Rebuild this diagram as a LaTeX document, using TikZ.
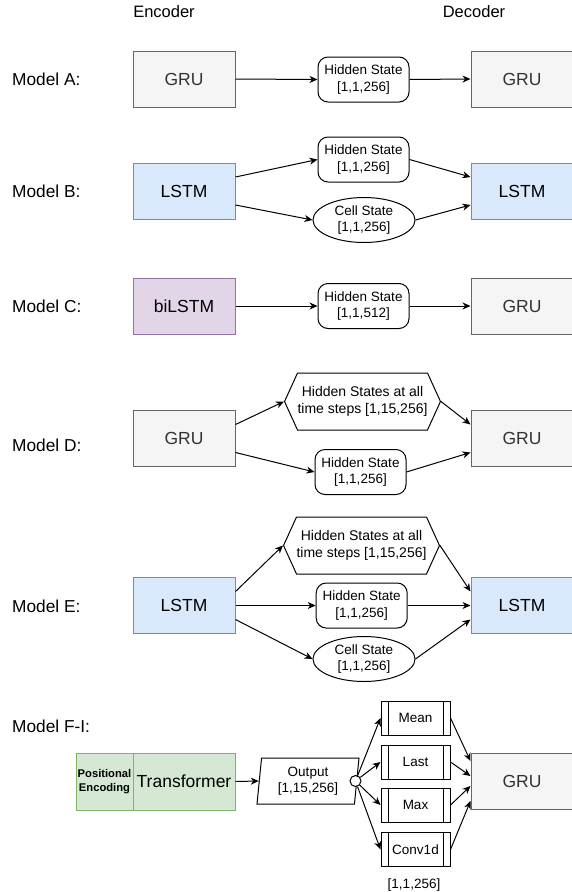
\documentclass[tikz,border=0pt]{standalone}
\usepackage{fontspec}
\setmainfont{Liberation Sans}
\usetikzlibrary{arrows.meta,shapes.geometric,shapes.symbols}
\definecolor{grufill}{HTML}{F5F5F5}
\definecolor{grudraw}{HTML}{666666}
\definecolor{grutext}{HTML}{333333}
\definecolor{lstmfill}{HTML}{DAE8FC}
\definecolor{lstmdraw}{HTML}{6C8EBF}
\definecolor{bifill}{HTML}{E1D5E7}
\definecolor{bidraw}{HTML}{9673A6}
\definecolor{trfill}{HTML}{D5E8D4}
\definecolor{trdraw}{HTML}{82B366}

\begin{document}
\begin{tikzpicture}[x=1pt, y=-1pt,
  block/.style={rectangle, minimum width=102pt, minimum height=56pt, inner sep=0pt, line width=1pt, font=\fontsize{17.5}{21}\selectfont},
  gru/.style={block, draw=grudraw, fill=grufill, text=grutext},
  lstm/.style={block, draw=lstmdraw, fill=lstmfill},
  bilstm/.style={block, draw=bidraw, fill=bifill},
  small/.style={font=\fontsize{13.5}{16.5}\selectfont, align=center, inner sep=0pt},
  hstate/.style={small, rectangle, rounded corners=10pt, draw, line width=1pt, minimum width=91pt, minimum height=45pt},
  cstate/.style={small, ellipse, draw, line width=1pt, minimum width=102pt, minimum height=45pt},
  allsteps/.style={small, signal, signal to=west and east, signal pointer angle=131, draw, line width=1pt, minimum width=147pt, minimum height=57pt, font=\fontsize{14}{16.7}\selectfont},
  pool/.style={small, rectangle, draw, line width=1pt, fill=white, minimum width=69pt, minimum height=34pt,
    path picture={\draw[line width=1pt] ([xshift=7pt]path picture bounding box.north west) -- ([xshift=7pt]path picture bounding box.south west);
      \draw[line width=1pt] ([xshift=-7pt]path picture bounding box.north east) -- ([xshift=-7pt]path picture bounding box.south east);}},
  model/.style={anchor=west, inner sep=0pt, font=\fontsize{17.3}{20}\selectfont},
  arr/.style={-{Stealth[length=8pt, width=7pt, inset=2.5pt]}, line width=1pt}]
  \useasboundingbox (0,0) rectangle (571,892);
  \node[font=\fontsize{16.5}{20}\selectfont] (enc) at (164,12) {Encoder};
  \node[font=\fontsize{16.5}{20}\selectfont] (dec) at (474,12) {Decoder};
  \node[model] (labA) at (12,79) {Model A:};
  \node[model] (labB) at (12,191) {Model B:};
  \node[model] (labC) at (12,306) {Model C:};
  \node[model] (labD) at (12,445) {Model D:};
  \node[model] (labE) at (12,606) {Model E:};
  \node[model] (labF) at (12,726) {Model F-I:};
  \node[gru] (encA) at (184,79) {GRU};
  \node[hstate] (hidA) at (363.5,79.5) {Hidden State\\{}[1,1,256]};
  \node[gru] (decA) at (522,79) {GRU};
  \draw[arr] (encA.east) -- (hidA.west);
  \draw[arr] (hidA.east) -- (decA.west);
  \node[lstm] (encB) at (184,191) {LSTM};
  \node[hstate] (hidB) at (363.5,159.5) {Hidden State\\{}[1,1,256]};
  \node[cstate] (cellB) at (364,220) {Cell State\\{}[1,1,256]};
  \node[lstm] (decB) at (522,191) {LSTM};
  \draw[arr] ([yshift=14pt]encB.east) -- (hidB.west);
  \draw[arr] ([yshift=-14pt]encB.east) -- (cellB.west);
  \draw[arr] (hidB.east) -- ([yshift=14pt]decB.west);
  \draw[arr] (cellB.east) -- ([yshift=-14pt]decB.west);
  \node[bilstm] (encC) at (184,306) {biLSTM};
  \node[hstate] (hidC) at (363.5,306) {Hidden State\\{}[1,1,512]};
  \node[gru] (decC) at (522,306) {GRU};
  \draw[arr] (encC.east) -- (hidC.west);
  \draw[arr] (hidC.east) -- (decC.west);
  \node[gru] (encD) at (184,438.5) {GRU};
  \node[allsteps] (allD) at (362.5,401.5) {Hidden States at all\\time steps [1,15,256]};
  \node[hstate] (hidD) at (360.5,472) {Hidden State\\{}[1,1,256]};
  \node[gru] (decD) at (522,438.5) {GRU};
  \draw[arr] ([yshift=14pt]encD.east) -- (allD.west);
  \draw[arr] ([yshift=-14pt]encD.east) -- (hidD.west);
  \draw[arr] (allD.east) -- ([yshift=14pt]decD.west);
  \draw[arr] (hidD.east) -- ([yshift=-14pt]decD.west);
  \node[lstm] (encE) at (184,605.5) {LSTM};
  \node[allsteps] (allE) at (361.5,545.5) {Hidden States at all\\time steps [1,15,256]};
  \node[hstate] (hidE) at (361.7,605.5) {Hidden State\\{}[1,1,256]};
  \node[cstate] (cellE) at (364,659) {Cell State\\{}[1,1,256]};
  \node[lstm] (decE) at (522,605.5) {LSTM};
  \draw[arr] ([yshift=14pt]encE.east) -- (allE.west);
  \draw[arr] (encE.east) -- (hidE.west);
  \draw[arr] ([yshift=-14pt]encE.east) -- (cellE.west);
  \draw[arr] (allE.east) -- ([yshift=14pt]decE.west);
  \draw[arr] (hidE.east) -- (decE.west);
  \draw[arr] (cellE.east) -- ([yshift=-14pt]decE.west);
  \node[block, draw=trdraw, fill=trfill, minimum width=57pt, minimum height=57pt, align=center, font=\bfseries\fontsize{11.2}{13.5}\selectfont] (pos) at (104.5,781.5) {Positional\\Encoding};
  \node[block, draw=trdraw, fill=trfill, minimum height=57pt] (trf) at (184,781.5) {Transformer};
  \node[small, trapezium, trapezium left angle=81, trapezium right angle=99, trapezium stretches body, draw, line width=1pt, minimum width=102pt, minimum height=46pt] (out) at (308,781) {Output\\{}[1,15,256]};
  \node[circle, draw, line width=1pt, fill=white, minimum size=11pt, inner sep=0pt] (split) at (355.5,781) {};
  \node[pool] (mean) at (415.5,718) {Mean};
  \node[pool] (last) at (415.5,762) {Last};
  \node[pool] (max) at (415.5,805) {Max};
  \node[pool] (conv) at (415.5,849.5) {Conv1d};
  \node[gru] (decF) at (522,781) {GRU};
  \node[small] (dims) at (414,885) {[1,1,256]};
  \draw[arr] (trf.east) -- (out.west);
  \draw[arr] (split) -- (mean.west);
  \draw[arr] (split) -- (last.west);
  \draw[arr] (split) -- (max.west);
  \draw[arr] (split) -- (conv.west);
  \draw[arr] (mean.east) -- ([yshift=20pt]decF.west);
  \draw[arr] (last.east) -- ([yshift=5pt]decF.west);
  \draw[arr] (max.east) -- ([yshift=-5pt]decF.west);
  \draw[arr] (conv.east) -- ([yshift=-20pt]decF.west);
\end{tikzpicture}
\end{document}
